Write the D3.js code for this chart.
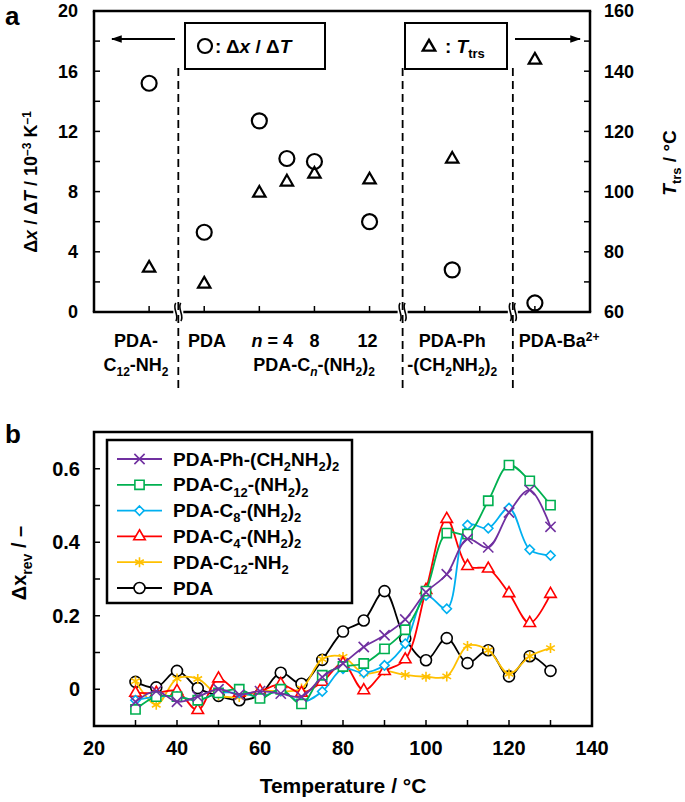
<!DOCTYPE html>
<html>
<head>
<meta charset="utf-8">
<script src="https://cdn.jsdelivr.net/npm/d3@7"></script>
<style>
body { margin: 0; background: #fff; }
text { font-family: "Liberation Sans", Arial, sans-serif; font-weight: bold; fill: #000; }
</style>
</head>
<body>
<div class="chart"></div>
<script>
// ---- panel a data ----
// x position of each sample on the broken category axis (PDA = n 0 slot)
var aSlots = [1, 2, 3, 3.5, 4, 5, 6.5, 8];
var aRate = [15.2, 5.3, 12.7, 10.2, 10.0, 6.0, 2.8, 0.6];      // dx/dT, 10^-3 K^-1
var aTtrs = [74.6, 69.3, 99.5, 103.2, 105.8, 103.9, 110.8, 143.7]; // T_trs, degC
var aBreaks = [1.53, 5.6, 7.6];
var aTicks = [1, 2, 3, 4, 5, 6, 7, 8];
var aLeftTicks = [0, 4, 8, 12, 16, 20];
var aRightTicks = [60, 80, 100, 120, 140, 160];

// ---- panel b data ----
var tempC = [30, 35, 40, 45, 50, 55, 60, 65, 70, 75, 80, 85, 90, 95, 100, 105, 110, 115, 120, 125, 130];
var pda = [0.02, 0.005, 0.05, 0.003, -0.018, -0.03, -0.015, 0.045, 0.015, 0.08, 0.157, 0.187, 0.267, 0.138, 0.079, 0.139, 0.071, 0.106, 0.035, 0.09, 0.05];
var c12nh2 = [0.022, -0.042, 0.029, 0.028, -0.016, -0.021, -0.004, -0.006, 0.002, 0.082, 0.088, 0.043, 0.05, 0.039, 0.034, 0.035, 0.118, 0.106, 0.042, 0.09, 0.112];
var c4 = [-0.01, -0.01, -0.005, -0.057, 0.029, -0.01, -0.005, 0.014, -0.01, 0.02, 0.07, -0.003, 0.049, 0.081, 0.27, 0.463, 0.335, 0.328, 0.261, 0.18, 0.259];
var c8 = [-0.03, -0.02, -0.02, -0.03, -0.01, -0.01, -0.02, -0.005, -0.035, -0.006, 0.056, 0.045, 0.065, 0.124, 0.255, 0.219, 0.447, 0.438, 0.493, 0.38, 0.364];
var c12 = [-0.055, -0.02, -0.02, -0.03, -0.01, 0.0, -0.025, 0.0, -0.04, 0.038, 0.062, 0.07, 0.11, 0.162, 0.267, 0.425, 0.422, 0.513, 0.61, 0.567, 0.501];
var ph = [-0.034, -0.005, -0.034, -0.02, 0.0, -0.015, -0.005, -0.012, -0.02, 0.033, 0.07, 0.115, 0.147, 0.19, 0.264, 0.313, 0.409, 0.386, 0.481, 0.542, 0.442];
var bXTicks = [20, 40, 60, 80, 100, 120, 140];
var bYTicks = [0, 0.2, 0.4, 0.6];

var width = 685, height = 802;

var svg = d3.select(".chart").append("svg")
	.attr("width", width)
	.attr("height", height);

// text with sub/superscripts and italics
// parts: plain strings or {t:"..", sub:1} / {t:"..", sup:1} / {t:"..", it:1}
function richText(el, parts, size) {
	var shift = 0;
	parts.forEach(function(p) {
		if(typeof p === "string") p = {t: p};
		var ts = el.append("tspan").text(p.t);
		var want = 0;
		if(p.sub) want = size * 0.28;
		if(p.sup) want = -size * 0.36;
		if(p.sub || p.sup) ts.attr("font-size", Math.round(size * 0.68));
		if(p.it) ts.attr("font-style", "italic");
		if(want !== shift) { ts.attr("dy", want - shift); shift = want; }
	});
}

// ================= panel a =================
var ax = d3.scaleLinear().domain([0, 9]).range([94, 590]);
var ayL = d3.scaleLinear().domain([0, 20]).range([312, 11]);
var ayR = d3.scaleLinear().domain([60, 160]).range([312, 11]);

var pa = svg.append("g");

// frame: left, right, top
pa.append("line").attr("x1", ax(0)).attr("x2", ax(0)).attr("y1", ayL(0)).attr("y2", ayL(20))
	.attr("stroke", "#000").attr("stroke-width", 2.5);
pa.append("line").attr("x1", ax(9)).attr("x2", ax(9)).attr("y1", ayL(0)).attr("y2", ayL(20))
	.attr("stroke", "#000").attr("stroke-width", 2.5);
pa.append("line").attr("x1", ax(0) - 1.2).attr("x2", ax(9) + 1.2).attr("y1", ayL(20)).attr("y2", ayL(20))
	.attr("stroke", "#000").attr("stroke-width", 2.5);

// bottom axis in pieces between the breaks
var edges = [0].concat(aBreaks).concat([9]);
for(var i = 0; i < edges.length - 1; i++) {
	var x0 = ax(edges[i]) + (i === 0 ? -1.2 : 5);
	var x1 = ax(edges[i + 1]) + (i === edges.length - 2 ? 1.2 : -5);
	pa.append("line").attr("x1", x0).attr("x2", x1).attr("y1", ayL(0)).attr("y2", ayL(0))
		.attr("stroke", "#000").attr("stroke-width", 2.5);
}
aBreaks.forEach(function(b) {
	[-2.5, 2.5].forEach(function(o) {
		var cx = ax(b) + o, cy = ayL(0);
		pa.append("path")
			.attr("d", "M" + cx + "," + (cy - 9) + " C" + (cx - 4) + "," + (cy - 4) + " " + (cx + 4) + "," + (cy + 4) + " " + cx + "," + (cy + 9))
			.attr("fill", "none").attr("stroke", "#000").attr("stroke-width", 1.6);
	});
});

// ticks
aTicks.forEach(function(t) {
	pa.append("line").attr("x1", ax(t)).attr("x2", ax(t)).attr("y1", ayL(0)).attr("y2", ayL(0) - 6)
		.attr("stroke", "#000").attr("stroke-width", 1.5);
});
d3.range(0, 21, 2).forEach(function(t) {
	pa.append("line").attr("x1", ax(0)).attr("x2", ax(0) + 6).attr("y1", ayL(t)).attr("y2", ayL(t))
		.attr("stroke", "#000").attr("stroke-width", 1.5);
});
d3.range(60, 161, 10).forEach(function(t) {
	pa.append("line").attr("x1", ax(9)).attr("x2", ax(9) - 6).attr("y1", ayR(t)).attr("y2", ayR(t))
		.attr("stroke", "#000").attr("stroke-width", 1.5);
});
aLeftTicks.forEach(function(t) {
	pa.append("text").attr("x", 78).attr("y", ayL(t)).attr("dy", "0.36em")
		.attr("text-anchor", "end").attr("font-size", 18).text(t);
});
aRightTicks.forEach(function(t) {
	pa.append("text").attr("x", 604).attr("y", ayR(t)).attr("dy", "0.36em")
		.attr("text-anchor", "start").attr("font-size", 18).text(t);
});

// dashed separators
aBreaks.forEach(function(b) {
	pa.append("line").attr("x1", ax(b)).attr("x2", ax(b)).attr("y1", 68).attr("y2", 390)
		.attr("stroke", "#000").attr("stroke-width", 1.8).attr("stroke-dasharray", "8,5");
});

// legend boxes + arrows
pa.append("rect").attr("x", 185).attr("y", 23).attr("width", 140).attr("height", 46)
	.attr("fill", "#fff").attr("stroke", "#000").attr("stroke-width", 2);
pa.append("circle").attr("cx", 205).attr("cy", 46).attr("r", 7)
	.attr("fill", "none").attr("stroke", "#000").attr("stroke-width", 2.2);
richText(pa.append("text").attr("x", 215).attr("y", 53).attr("font-size", 19),
	[": ", {t: "\u0394"}, {t: "x", it: 1}, "  / \u0394", {t: "T", it: 1}], 19);

pa.append("rect").attr("x", 405).attr("y", 23).attr("width", 102).attr("height", 46)
	.attr("fill", "#fff").attr("stroke", "#000").attr("stroke-width", 2);
pa.append("path").attr("d", d3.symbol(d3.symbolTriangle2, 110)())
	.attr("transform", "translate(429,47)")
	.attr("fill", "none").attr("stroke", "#000").attr("stroke-width", 2.4);
richText(pa.append("text").attr("x", 445).attr("y", 53).attr("font-size", 19),
	[": ", {t: "T", it: 1}, {t: "trs", sub: 1}], 19);

svg.append("defs").append("marker")
	.attr("id", "arr").attr("viewBox", "0 0 10 10").attr("refX", 9).attr("refY", 5)
	.attr("markerWidth", 6).attr("markerHeight", 6).attr("orient", "auto")
	.append("path").attr("d", "M0,1.5 L10,5 L0,8.5 Z").attr("fill", "#000");
pa.append("line").attr("x1", 175).attr("x2", 112).attr("y1", 39).attr("y2", 39)
	.attr("stroke", "#000").attr("stroke-width", 1.8).attr("marker-end", "url(#arr)");
pa.append("line").attr("x1", 515).attr("x2", 580).attr("y1", 39).attr("y2", 39)
	.attr("stroke", "#000").attr("stroke-width", 1.8).attr("marker-end", "url(#arr)");

// points
aSlots.forEach(function(s, i) {
	pa.append("circle").attr("cx", ax(s)).attr("cy", ayL(aRate[i])).attr("r", 7.5)
		.attr("fill", "none").attr("stroke", "#000").attr("stroke-width", 2.2);
	pa.append("path").attr("d", d3.symbol(d3.symbolTriangle2, 110)())
		.attr("transform", "translate(" + ax(s) + "," + ayR(aTtrs[i]) + ")")
		.attr("fill", "none").attr("stroke", "#000").attr("stroke-width", 2.2);
});

// category labels
var catFs = 18;
function catLabel(x, y, anchor, parts) {
	richText(pa.append("text").attr("x", x).attr("y", y).attr("text-anchor", anchor).attr("font-size", catFs), parts, catFs);
}
catLabel(136, 347, "middle", ["PDA-"]);
catLabel(136, 371, "middle", ["C", {t: "12", sub: 1}, "-NH", {t: "2", sub: 1}]);
catLabel(188, 347, "start", ["PDA"]);
catLabel(293, 347, "end", [{t: "n", it: 1}, " = 4"]);
catLabel(ax(4), 347, "middle", ["8"]);
catLabel(ax(5) - 2, 347, "middle", ["12"]);
catLabel(314, 371, "middle", ["PDA-C", {t: "n", sub: 1, it: 1}, "-(NH", {t: "2", sub: 1}, ")", {t: "2", sub: 1}]);
catLabel(ax(6.5), 347, "middle", ["PDA-Ph"]);
catLabel(ax(6.5), 371, "middle", ["-(CH", {t: "2", sub: 1}, "NH", {t: "2", sub: 1}, ")", {t: "2", sub: 1}]);
catLabel(ax(7.6) + 6, 347, "start", ["PDA-Ba", {t: "2+", sup: 1}]);

// axis titles
richText(pa.append("text").attr("transform", "translate(37,182) rotate(-90)")
	.attr("text-anchor", "middle").attr("font-size", 18),
	["\u0394", {t: "x", it: 1}, "  / \u0394", {t: "T", it: 1}, " / 10", {t: "\u20133", sup: 1}, " K", {t: "\u20131", sup: 1}], 18);
richText(pa.append("text").attr("transform", "translate(676,163) rotate(-90)")
	.attr("text-anchor", "middle").attr("font-size", 19),
	[{t: "T", it: 1}, {t: "trs", sub: 1}, " / \u00b0C"], 19);

svg.append("text").attr("x", 5).attr("y", 25).attr("font-size", 26).text("a");
svg.append("text").attr("x", 5).attr("y", 443).attr("font-size", 26).text("b");

// ================= panel b =================
var bx = d3.scaleLinear().domain([20, 140]).range([94, 592]);
var by = d3.scaleLinear().domain([-0.1, 0.7]).range([726, 432]);

var pb = svg.append("g");
pb.append("rect").attr("x", bx(20)).attr("y", by(0.7)).attr("width", bx(140) - bx(20)).attr("height", by(-0.1) - by(0.7))
	.attr("fill", "none").attr("stroke", "#000").attr("stroke-width", 2.5);

d3.range(30, 140, 10).forEach(function(t) {
	pb.append("line").attr("x1", bx(t)).attr("x2", bx(t)).attr("y1", by(-0.1)).attr("y2", by(-0.1) - 6)
		.attr("stroke", "#000").attr("stroke-width", 1.5);
});
d3.range(0, 7).forEach(function(k) {
	var t = k / 10;
	pb.append("line").attr("x1", bx(20)).attr("x2", bx(20) + 6).attr("y1", by(t)).attr("y2", by(t))
		.attr("stroke", "#000").attr("stroke-width", 1.5);
});
bXTicks.forEach(function(t) {
	pb.append("text").attr("x", bx(t)).attr("y", 755).attr("text-anchor", "middle").attr("font-size", 20).text(t);
});
bYTicks.forEach(function(t) {
	pb.append("text").attr("x", 80).attr("y", by(t)).attr("dy", "0.36em").attr("text-anchor", "end")
		.attr("font-size", 20).text(t === 0 ? "0" : t.toFixed(1));
});
pb.append("text").attr("x", 343).attr("y", 793).attr("text-anchor", "middle").attr("font-size", 21)
	.text("Temperature / \u00b0C");
richText(pb.append("text").attr("transform", "translate(26,563) rotate(-90)")
	.attr("text-anchor", "middle").attr("font-size", 20),
	["\u0394x", {t: "rev", sub: 1}, " / \u2013"], 20);

var series = [
	{name: ["PDA"], vals: pda, color: "#000000", sym: d3.symbolCircle, size: 95},
	{name: ["PDA-C", {t: "12", sub: 1}, "-NH", {t: "2", sub: 1}], vals: c12nh2, color: "#FFC000", sym: d3.symbolAsterisk, size: 70},
	{name: ["PDA-C", {t: "4", sub: 1}, "-(NH", {t: "2", sub: 1}, ")", {t: "2", sub: 1}], vals: c4, color: "#FF0000", sym: d3.symbolTriangle2, size: 95},
	{name: ["PDA-C", {t: "8", sub: 1}, "-(NH", {t: "2", sub: 1}, ")", {t: "2", sub: 1}], vals: c8, color: "#00B0F0", sym: d3.symbolDiamond2, size: 55},
	{name: ["PDA-C", {t: "12", sub: 1}, "-(NH", {t: "2", sub: 1}, ")", {t: "2", sub: 1}], vals: c12, color: "#00B050", sym: d3.symbolSquare, size: 85},
	{name: ["PDA-Ph-(CH", {t: "2", sub: 1}, "NH", {t: "2", sub: 1}, ")", {t: "2", sub: 1}], vals: ph, color: "#7030A0", sym: d3.symbolX, size: 70}
];

var line = d3.line()
	.x(function(d) { return bx(d[0]); })
	.y(function(d) { return by(d[1]); })
	.curve(d3.curveCatmullRom.alpha(0.5));

series.forEach(function(s) {
	var pts = tempC.map(function(t, i) { return [t, s.vals[i]]; });
	var g = pb.append("g");
	g.append("path").datum(pts).attr("d", line)
		.attr("fill", "none").attr("stroke", s.color).attr("stroke-width", 1.8);
	g.selectAll("path.m").data(pts).enter().append("path").attr("class", "m")
		.attr("d", d3.symbol(s.sym, s.size)())
		.attr("transform", function(d) { return "translate(" + bx(d[0]) + "," + by(d[1]) + ")"; })
		.attr("fill", "#fff").attr("stroke", s.color).attr("stroke-width", 1.6);
});

// legend (reverse order)
var lg = pb.append("g");
lg.append("rect").attr("x", 107).attr("y", 440).attr("width", 245).attr("height", 163)
	.attr("fill", "#fff").attr("stroke", "#000").attr("stroke-width", 2.5);
series.slice().reverse().forEach(function(s, i) {
	var y = 459 + i * 25.8;
	lg.append("line").attr("x1", 117).attr("x2", 162).attr("y1", y).attr("y2", y)
		.attr("stroke", s.color).attr("stroke-width", 1.8);
	lg.append("path").attr("d", d3.symbol(s.sym, s.size)())
		.attr("transform", "translate(139.5," + y + ")")
		.attr("fill", "#fff").attr("stroke", s.color).attr("stroke-width", 1.6);
	richText(lg.append("text").attr("x", 173).attr("y", y + 6.5).attr("font-size", 19), s.name, 19);
});
</script>
</body>
</html>
